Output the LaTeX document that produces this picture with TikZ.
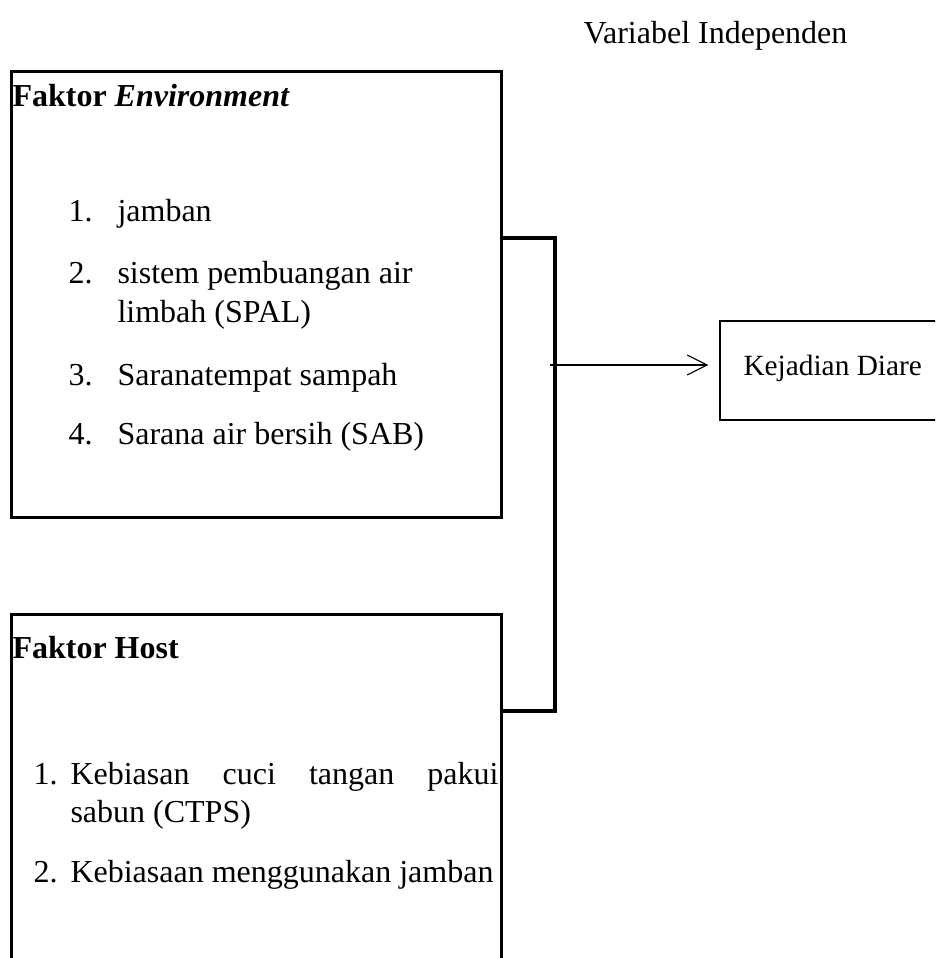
\documentclass[tikz,border=0pt]{standalone}
\usepackage{fontspec}
\setmainfont{Liberation Serif}
\usetikzlibrary{arrows.meta, positioning}

\newcommand{\pxunit}{0.375pt}

\begin{document}
\begin{tikzpicture}[x=0.375pt, y=-0.375pt]
        \fontsize{12}{14}\selectfont
        \tikzset{
            factorbox/.style={draw, line width=1.3pt, inner sep=0pt, anchor=north west},
            txt/.style={anchor=base west, inner sep=0pt},
            link/.style={line width=1.3pt},
        }
        \useasboundingbox (0,0) rectangle (935,958);
        \clip (0,0) rectangle (935,958);

        % Title
        \node[txt] (title) at (583,43) {Variabel Independen};

        % Environment box
        \node[factorbox, minimum width=490*\pxunit, minimum height=446*\pxunit] (env) at (10,70) {};
        \node[txt] (envhead) at (12,106) {\textbf{Faktor \textit{Environment}}};
        \foreach \n/\y/\entry in {1/221/jamban, 2/283/sistem pembuangan air, 3/385/Saranatempat sampah, 4/444/Sarana air bersih (SAB)} {
            \node[txt] (envnum\n) at (68,\y) {\n.};
            \node[txt] (envitem\n) at (117,\y) {\entry};
        }
        \node[txt] (envitem2b) at (117,322) {limbah (SPAL)};

        % Host box
        \node[factorbox, minimum width=490*\pxunit, minimum height=362*\pxunit] (host) at (10,613) {};
        \node[txt] (hosthead) at (12,658) {\textbf{Faktor Host}};
        \node[txt] (hostnum1) at (33,784) {1.};
        \node[txt] (hostitem1) at (70,784) {\makebox[160.5pt][s]{Kebiasan cuci tangan pakui}};
        \node[txt] (hostitem1b) at (70,822) {sabun (CTPS)};
        \node[txt] (hostnum2) at (33,882) {2.};
        \node[txt] (hostitem2) at (70,882) {Kebiasaan menggunakan jamban};

        % Dependent box
        \node[factorbox, line width=0.9pt, minimum width=225*\pxunit, minimum height=99*\pxunit] (diare) at (719,320) {};
        \node[txt, font=\fontsize{11}{13}\selectfont] (diaretext) at (743,375) {Kejadian Diare};

        % Bracket and arrow
        \coordinate (brtop) at (555,238);
        \coordinate (brbot) at (555,711);
        \coordinate (fork) at (550,365);
        \draw[link] (env.east |- brtop) -- (brtop) -- (brbot) -- (host.east |- brbot);
        \draw[line width=0.4pt, -{Straight Barb[length=7.5pt, width=7.5pt]}, shorten >=4pt] (fork) -- (diare.west |- fork);
    \end{tikzpicture}
\end{document}
